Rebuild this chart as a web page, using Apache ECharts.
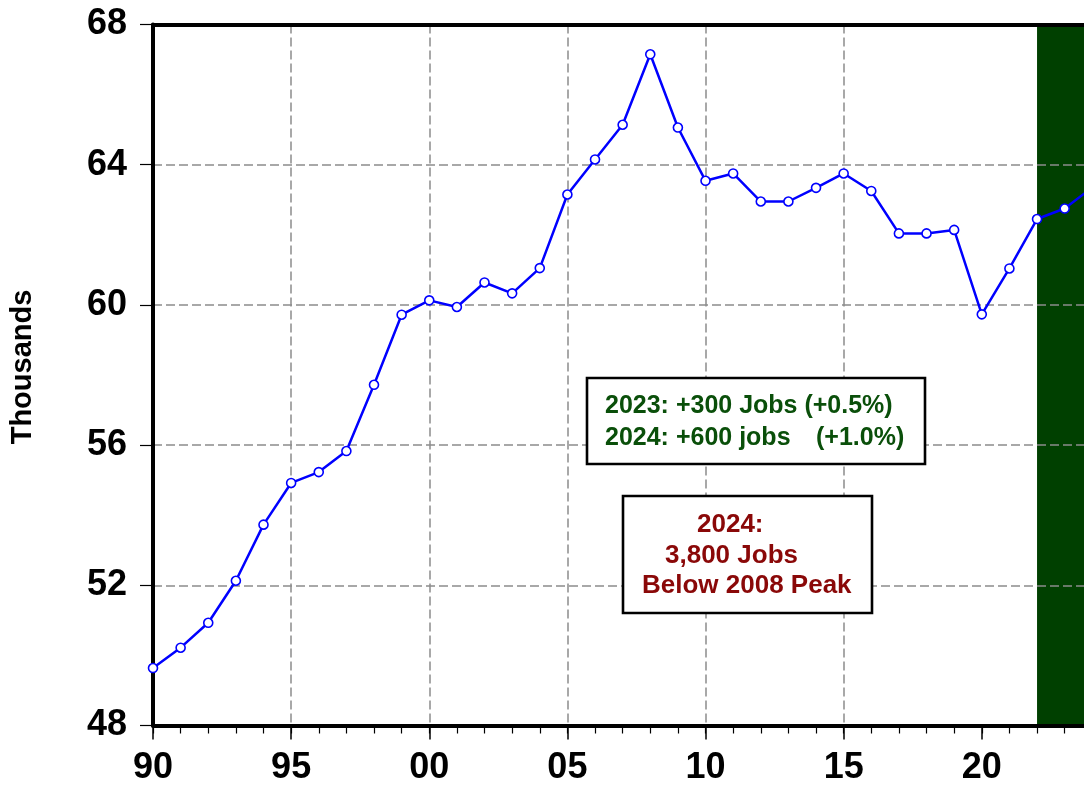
<!DOCTYPE html>
<html>
<head>
<meta charset="utf-8">
<title>Jobs, thousands, 1990-2024</title>
<script src="https://cdn.jsdelivr.net/npm/echarts@6/dist/echarts.min.js"></script>
<style>
  html, body { margin: 0; padding: 0; background: #fff; }
  #chart { width: 1084px; height: 789px; }
</style>
</head>
<body>
<div id="chart"></div>
<script>
// Annual employment, thousands of jobs
const years = [1990, 1991, 1992, 1993, 1994, 1995, 1996, 1997, 1998, 1999,
               2000, 2001, 2002, 2003, 2004, 2005, 2006, 2007, 2008, 2009,
               2010, 2011, 2012, 2013, 2014, 2015, 2016, 2017, 2018, 2019,
               2020, 2021, 2022, 2023, 2024];
const jobs = [49.64, 50.22, 50.93, 52.13, 53.73, 54.92, 55.23, 55.83, 57.72, 59.72,
              60.13, 59.94, 60.64, 60.33, 61.05, 63.15, 64.15, 65.14, 67.15, 65.06,
              63.54, 63.75, 62.95, 62.95, 63.34, 63.75, 63.25, 62.04, 62.04, 62.14,
              59.73, 61.04, 62.45, 62.75, 63.35];

// Axis ranges and tick positions
const yMin = 48, yMax = 68, yStep = 4;
const xMin = 1990, xMax = 2023.7, xStep = 5;
const xMajorTicks = [1990, 1995, 2000, 2005, 2010, 2015, 2020];
const xMinorTicks = years.filter(y => y <= xMax);

// Shaded period
const shadedPeriod = [[2022, 2024]];

// Annotation text
const noteGrowth = ['2023: +300 Jobs (+0.5%)', '2024: +600 jobs', '(+1.0%)'];
const notePeak = ['2024:', '3,800 Jobs', 'Below 2008 Peak'];

const FONT = "'Liberation Sans', Arial, Helvetica, sans-serif";
const GREEN_TEXT = '#0a4f0a';
const RED_TEXT = '#8a0808';

const chart = echarts.init(document.getElementById('chart'), null, { renderer: 'canvas' });

const gridLine = { show: true, showMinLine: false, showMaxLine: false,
                   lineStyle: { color: '#8c8c8c', width: 1.5, type: [9, 4] } };

const option = {
  animation: false,
  backgroundColor: '#ffffff',
  grid: { left: 153, right: 0, top: 24.5, bottom: 63.5, containLabel: false },
  xAxis: [
    {
      type: 'value', min: xMin, max: xMax, interval: xStep, position: 'bottom',
      axisLine: { show: true, onZero: false, lineStyle: { color: '#000', width: 4 } },
      axisTick: { show: true, length: 14, customValues: xMajorTicks,
                  lineStyle: { color: '#000', width: 1.5 } },
      axisLabel: {
        show: true, customValues: xMajorTicks, margin: 25,
        fontFamily: FONT, fontSize: 36, fontWeight: 'bold', color: '#000',
        formatter: v => {
          const r = Math.round(v);
          if (Math.abs(v - r) > 1e-6 || r % 5 !== 0) return '';
          return String(r % 100).padStart(2, '0');
        }
      },
      splitLine: gridLine
    },
    {
      // yearly minor ticks
      type: 'value', min: xMin, max: xMax, interval: 1, position: 'bottom',
      axisLine: { show: false },
      axisTick: { show: true, length: 8, customValues: xMinorTicks,
                  lineStyle: { color: '#000', width: 1.2 } },
      axisLabel: { show: false },
      splitLine: { show: false }
    },
    {
      // top frame
      type: 'value', min: xMin, max: xMax, position: 'top',
      axisLine: { show: true, onZero: false, lineStyle: { color: '#000', width: 4 } },
      axisTick: { show: false }, axisLabel: { show: false }, splitLine: { show: false }
    }
  ],
  yAxis: {
    type: 'value', min: yMin, max: yMax, interval: yStep,
    axisLine: { show: true, onZero: false, lineStyle: { color: '#000', width: 4 } },
    axisTick: { show: true, length: 13, lineStyle: { color: '#000', width: 1.2 } },
    axisLabel: { margin: 26, fontFamily: FONT, fontSize: 36, fontWeight: 'bold', color: '#000' },
    splitLine: gridLine
  },
  series: [
    {
      type: 'custom', name: 'shade', z: -1, silent: true,
      encode: { x: [0, 1] },
      data: shadedPeriod,
      renderItem: (params, api) => {
        const p0 = api.coord([api.value(0), yMax]);
        const p1 = api.coord([api.value(1), yMin]);
        const cs = params.coordSys;
        const right = Math.min(p1[0], cs.x + cs.width);
        return {
          type: 'rect',
          shape: { x: p0[0], y: p0[1], width: right - p0[0], height: p1[1] - p0[1] },
          style: { fill: '#004000' }
        };
      }
    },
    {
      type: 'line', name: 'Jobs', z: 3, clip: true,
      data: years.map((y, i) => [y, jobs[i]]),
      showAllSymbol: true,
      symbol: 'circle', symbolSize: 9,
      lineStyle: { color: '#0000ff', width: 2.5 },
      itemStyle: { color: '#ffffff', borderColor: '#0000ff', borderWidth: 1.6 },
      emphasis: { disabled: true }
    }
  ],
  graphic: [
    {
      type: 'text', z: 100, x: 23, y: 367, rotation: Math.PI / 2,
      style: { text: 'Thousands', fontFamily: FONT, fontSize: 29, fontWeight: 'bold',
               fill: '#000', align: 'center', verticalAlign: 'middle' }
    },
    {
      type: 'rect', z: 100, shape: { x: 587, y: 378, width: 338, height: 86 },
      style: { fill: '#fff', stroke: '#000', lineWidth: 2.6 }
    },
    {
      type: 'text', z: 101, x: 605, y: 406,
      style: { text: noteGrowth[0], fontFamily: FONT, fontSize: 25, fontWeight: 'bold',
               fill: GREEN_TEXT, align: 'left', verticalAlign: 'middle' }
    },
    {
      type: 'text', z: 101, x: 605, y: 438,
      style: { text: noteGrowth[1], fontFamily: FONT, fontSize: 25, fontWeight: 'bold',
               fill: GREEN_TEXT, align: 'left', verticalAlign: 'middle' }
    },
    {
      type: 'text', z: 101, x: 816, y: 438,
      style: { text: noteGrowth[2], fontFamily: FONT, fontSize: 25, fontWeight: 'bold',
               fill: GREEN_TEXT, align: 'left', verticalAlign: 'middle' }
    },
    {
      type: 'rect', z: 100, shape: { x: 623, y: 496, width: 249, height: 117 },
      style: { fill: '#fff', stroke: '#000', lineWidth: 2.6 }
    },
    {
      type: 'text', z: 101, x: 697, y: 525,
      style: { text: notePeak[0], fontFamily: FONT, fontSize: 26, fontWeight: 'bold',
               fill: RED_TEXT, align: 'left', verticalAlign: 'middle' }
    },
    {
      type: 'text', z: 101, x: 665, y: 556,
      style: { text: notePeak[1], fontFamily: FONT, fontSize: 26, fontWeight: 'bold',
               fill: RED_TEXT, align: 'left', verticalAlign: 'middle' }
    },
    {
      type: 'text', z: 101, x: 642, y: 586,
      style: { text: notePeak[2], fontFamily: FONT, fontSize: 26, fontWeight: 'bold',
               fill: RED_TEXT, align: 'left', verticalAlign: 'middle' }
    }
  ]
};

chart.setOption(option);
</script>
</body>
</html>
